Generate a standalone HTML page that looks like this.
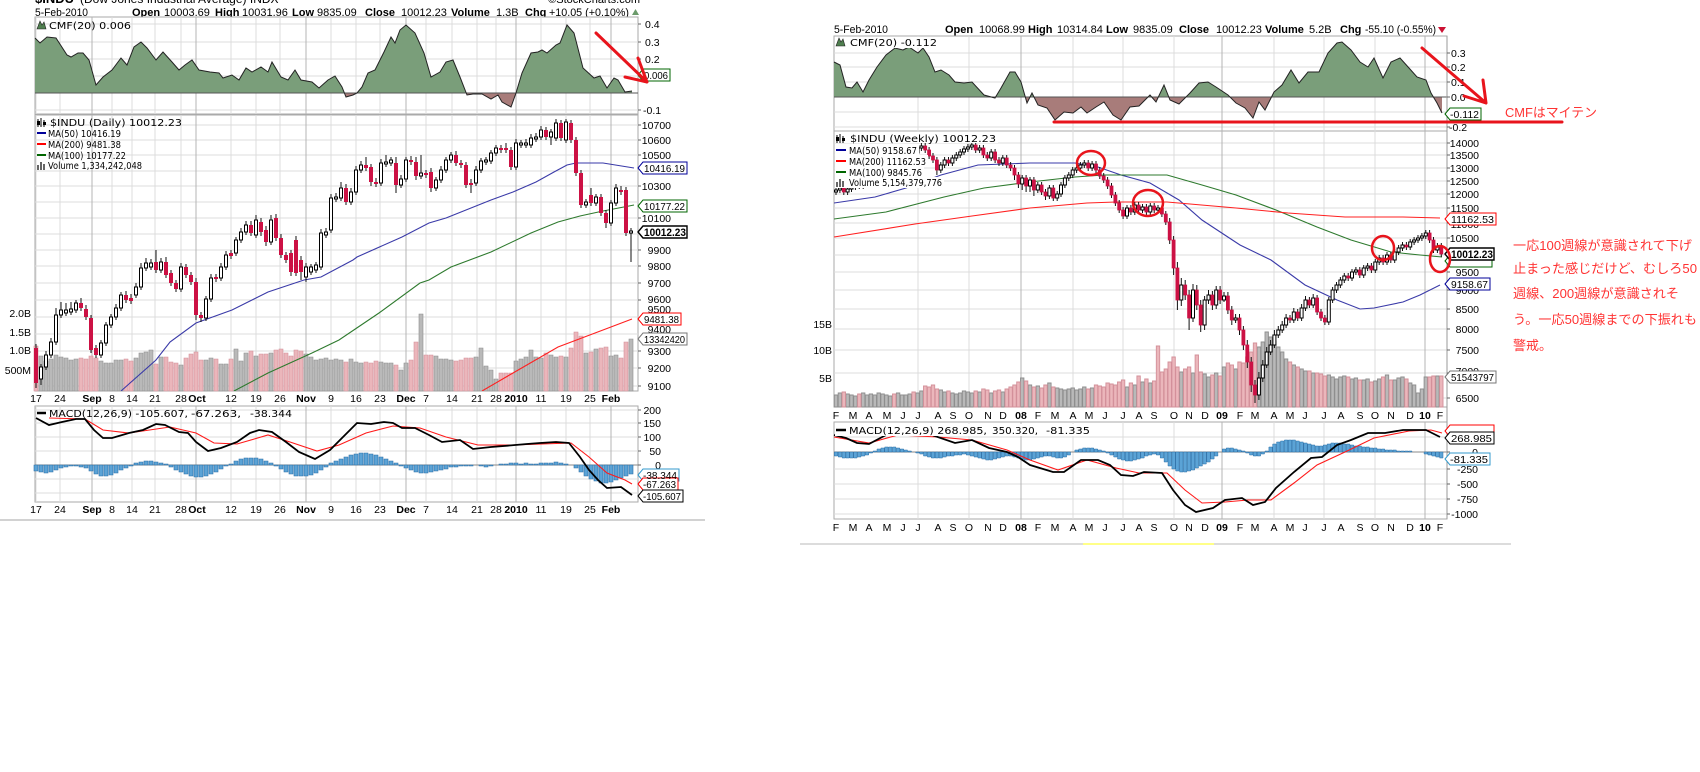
<!DOCTYPE html>
<html><head><meta charset="utf-8"><style>
html,body{margin:0;padding:0;background:#fff;}
svg{display:block;}
text{font-family:"Liberation Sans",Arial,sans-serif;font-size:10.5px;fill:#000;}
.lg{font-family:"DejaVu Sans","Liberation Sans",sans-serif;font-size:10px;}
.h{font-size:11px;}
.b{font-weight:bold;}
.jp{font-family:"Liberation Sans","Noto Sans CJK JP",sans-serif;font-size:13px;fill:#ff3333;}
</style></head><body>
<svg width="1700" height="772" viewBox="0 0 1700 772" xmlns="http://www.w3.org/2000/svg">
<defs>
<clipPath id="lcu"><rect x="35" y="17" width="603" height="76"/></clipPath>
<clipPath id="lcd"><rect x="35" y="93" width="603" height="21"/></clipPath>
<clipPath id="rcu"><rect x="834" y="36" width="613" height="61"/></clipPath>
<clipPath id="rcd"><rect x="834" y="97" width="613" height="34"/></clipPath>
<clipPath id="lp"><rect x="35" y="115" width="603" height="276"/></clipPath>
<clipPath id="rp"><rect x="834" y="131" width="613" height="276"/></clipPath>
</defs>

<!-- ================= LEFT CHART ================= -->
<text x="35" y="3" class="b" style="font-size:13px">$INDU</text>
<text x="80" y="3" style="font-size:12px">(Dow Jones Industrial Average) INDX</text>
<text x="640" y="3" text-anchor="end" style="font-size:11px">©StockCharts.com</text>
<text x="35" y="16" class="h" textLength="53" lengthAdjust="spacingAndGlyphs">5-Feb-2010</text>
<text x="132" y="16" class="h b">Open</text><text x="164" y="16" class="h">10003.69</text>
<text x="215" y="16" class="h b">High</text><text x="242" y="16" class="h">10031.96</text>
<text x="292" y="16" class="h b">Low</text><text x="317" y="16" class="h">9835.09</text>
<text x="365" y="16" class="h b">Close</text><text x="401" y="16" class="h">10012.23</text>
<text x="451" y="16" class="h b">Volume</text><text x="496" y="16" class="h">1.3B</text>
<text x="525" y="16" class="h b">Chg</text><text x="549" y="16" class="h" textLength="80" lengthAdjust="spacingAndGlyphs">+10.05 (+0.10%)</text>
<path d="M632 15l3.5-6 3.5 6z" fill="#6a9a6a"/>

<!-- panels -->
<rect x="35" y="17" width="603" height="97" fill="#fff" stroke="#aaa"/>
<rect x="35" y="115" width="603" height="276" fill="#fff" stroke="#aaa"/>
<rect x="35" y="406" width="603" height="96" fill="#fff" stroke="#aaa"/>
<path d="M35 24H638M35 42H638M35 59H638M35 76H638M35 110H638M35 125H638M35 140H638M35 155H638M35 171H638M35 186H638M35 202H638M35 218H638M35 234H638M35 250H638M35 266H638M35 283H638M35 300H638M35 317H638M35 334H638M35 351H638M35 368H638M35 386H638M35 410H638M35 423H638M35 437H638M35 451H638M35 479H638M35 493H638" stroke="#dcdcdc" stroke-width="1"/>
<path d="M36 17V114M36 115V391M36 406V502M60 17V114M60 115V391M60 406V502M112 17V114M112 115V391M112 406V502M132 17V114M132 115V391M132 406V502M155 17V114M155 115V391M155 406V502M181 17V114M181 115V391M181 406V502M231 17V114M231 115V391M231 406V502M256 17V114M256 115V391M256 406V502M280 17V114M280 115V391M280 406V502M331 17V114M331 115V391M331 406V502M356 17V114M356 115V391M356 406V502M380 17V114M380 115V391M380 406V502M426 17V114M426 115V391M426 406V502M452 17V114M452 115V391M452 406V502M477 17V114M477 115V391M477 406V502M496 17V114M496 115V391M496 406V502M541 17V114M541 115V391M541 406V502M566 17V114M566 115V391M566 406V502M590 17V114M590 115V391M590 406V502" stroke="#dcdcdc"/>
<path d="M92 17V114M92 115V391M92 406V502M196 17V114M196 115V391M196 406V502M306 17V114M306 115V391M306 406V502M406 17V114M406 115V391M406 406V502M516 17V114M516 115V391M516 406V502M611 17V114M611 115V391M611 406V502" stroke="#b4b4b4"/>

<!-- left CMF -->
<g>
<polygon clip-path="url(#lcu)" fill="#7a9e7a" points="35,93 35,38 40,43 47,37 56,38 67,55 71,57 78,53 83,53 89,60 96,85 103,77 112,70 121,58 127,65 134,47 141,42 147,48 156,60 163,52 172,62 179,70 185,65 192,60 199,70 210,72 219,73 223,78 232,75 239,80 246,68 252,72 261,67 268,72 272,62 281,77 288,80 295,70 301,80 312,82 319,88 328,80 335,76 342,87 346,97 353,95 357,93 362,87 368,73 375,70 384,52 391,37 395,43 400,30 406,25 415,33 424,53 431,77 440,72 446,62 453,60 460,77 467,95 473,94 482,94 491,99 498,95 502,102 511,107 516,93 522,73 531,53 538,52 542,50 547,53 556,45 560,43 567,25 574,33 583,68 594,78 600,76 607,88 614,78 618,80 625,92 632,91 632,93"/>
<polygon clip-path="url(#lcd)" fill="#a87c7a" points="35,93 35,38 40,43 47,37 56,38 67,55 71,57 78,53 83,53 89,60 96,85 103,77 112,70 121,58 127,65 134,47 141,42 147,48 156,60 163,52 172,62 179,70 185,65 192,60 199,70 210,72 219,73 223,78 232,75 239,80 246,68 252,72 261,67 268,72 272,62 281,77 288,80 295,70 301,80 312,82 319,88 328,80 335,76 342,87 346,97 353,95 357,93 362,87 368,73 375,70 384,52 391,37 395,43 400,30 406,25 415,33 424,53 431,77 440,72 446,62 453,60 460,77 467,95 473,94 482,94 491,99 498,95 502,102 511,107 516,93 522,73 531,53 538,52 542,50 547,53 556,45 560,43 567,25 574,33 583,68 594,78 600,76 607,88 614,78 618,80 625,92 632,91 632,93"/>
<path d="M35 93H638" stroke="#555"/>
<polyline fill="none" stroke="#222" stroke-width="1" points="35,38 40,43 47,37 56,38 67,55 71,57 78,53 83,53 89,60 96,85 103,77 112,70 121,58 127,65 134,47 141,42 147,48 156,60 163,52 172,62 179,70 185,65 192,60 199,70 210,72 219,73 223,78 232,75 239,80 246,68 252,72 261,67 268,72 272,62 281,77 288,80 295,70 301,80 312,82 319,88 328,80 335,76 342,87 346,97 353,95 357,93 362,87 368,73 375,70 384,52 391,37 395,43 400,30 406,25 415,33 424,53 431,77 440,72 446,62 453,60 460,77 467,95 473,94 482,94 491,99 498,95 502,102 511,107 516,93 522,73 531,53 538,52 542,50 547,53 556,45 560,43 567,25 574,33 583,68 594,78 600,76 607,88 614,78 618,80 625,92 632,91"/>
</g>

<!-- left volume -->
<path fill="#b9b9b9" stroke="#8e8e8e" stroke-width="0.6" d="M39 391v-35h4v35zM44 391v-30h4v30zM49 391v-32h4v32zM54 391v-36h4v36zM59 391v-34h4v34zM64 391v-33h4v33zM69 391v-31h4v31zM74 391v-32h4v32zM99 391v-30h4v30zM104 391v-28h4v28zM109 391v-28h4v28zM114 391v-31h4v31zM119 391v-31h4v31zM134 391v-33h4v33zM139 391v-38h4v38zM144 391v-39h4v39zM149 391v-41h4v41zM159 391v-34h4v34zM179 391v-26h4v26zM204 391v-31h4v31zM209 391v-33h4v33zM219 391v-27h4v27zM224 391v-27h4v27zM234 391v-42h4v42zM239 391v-30h4v30zM244 391v-38h4v38zM254 391v-35h4v35zM269 391v-38h4v38zM304 391v-37h4v37zM309 391v-34h4v34zM314 391v-31h4v31zM319 391v-32h4v32zM324 391v-33h4v33zM329 391v-31h4v31zM334 391v-32h4v32zM339 391v-31h4v31zM349 391v-32h4v32zM354 391v-29h4v29zM359 391v-28h4v28zM379 391v-29h4v29zM384 391v-28h4v28zM389 391v-28h4v28zM399 391v-21h4v21zM404 391v-28h4v28zM419 391v-77h4v77zM434 391v-35h4v35zM439 391v-32h4v32zM444 391v-32h4v32zM449 391v-31h4v31zM474 391v-34h4v34zM479 391v-43h4v43zM484 391v-25h4v25zM489 391v-21h4v21zM494 391v-12h4v12zM514 391v-30h4v30zM519 391v-32h4v32zM524 391v-34h4v34zM529 391v-41h4v41zM534 391v-34h4v34zM539 391v-33h4v33zM549 391v-36h4v36zM554 391v-34h4v34zM564 391v-34h4v34zM584 391v-38h4v38zM594 391v-42h4v42zM609 391v-35h4v35zM614 391v-36h4v36zM629 391v-52h4v52z"/>
<path fill="#ebb6bb" stroke="#d3909a" stroke-width="0.6" d="M34 391v-45h4v45zM79 391v-33h4v33zM84 391v-32h4v32zM89 391v-35h4v35zM94 391v-33h4v33zM124 391v-32h4v32zM129 391v-30h4v30zM154 391v-27h4v27zM164 391v-34h4v34zM169 391v-29h4v29zM174 391v-28h4v28zM184 391v-33h4v33zM189 391v-37h4v37zM194 391v-39h4v39zM199 391v-31h4v31zM214 391v-32h4v32zM229 391v-32h4v32zM249 391v-40h4v40zM259 391v-37h4v37zM264 391v-37h4v37zM274 391v-41h4v41zM279 391v-42h4v42zM284 391v-38h4v38zM289 391v-35h4v35zM294 391v-41h4v41zM299 391v-40h4v40zM344 391v-29h4v29zM364 391v-29h4v29zM369 391v-28h4v28zM374 391v-30h4v30zM394 391v-26h4v26zM409 391v-31h4v31zM414 391v-49h4v49zM424 391v-36h4v36zM429 391v-36h4v36zM454 391v-30h4v30zM459 391v-31h4v31zM464 391v-33h4v33zM469 391v-33h4v33zM499 391v-18h4v18zM504 391v-18h4v18zM509 391v-18h4v18zM544 391v-38h4v38zM559 391v-35h4v35zM569 391v-43h4v43zM574 391v-59h4v59zM579 391v-55h4v55zM589 391v-39h4v39zM599 391v-43h4v43zM604 391v-44h4v44zM619 391v-33h4v33zM624 391v-49h4v49z"/>

<!-- left MAs -->
<g clip-path="url(#lp)" fill="none">
<polyline stroke="#3a3aa8" stroke-width="1.1" points="121,391 156,360 170,342 196,323 232,310 268,292 304,280 321,277 353,260 357,257 402,237 429,223 446,218 491,200 513,192 536,182 554,172 567,165 576,163 603,163 634,168"/>
<polyline stroke="#2e7a2e" stroke-width="1.1" points="234,391 268,373 312,353 339,340 379,313 420,283 429,280 451,267 491,252 531,233 558,222 580,216 603,211 629,206 634,205"/>
<polyline stroke="#ff2020" stroke-width="1.1" points="482,391 513,373 558,347 603,330 632,319"/>
</g>

<!-- left candles -->
<path stroke="#111" stroke-width="1" fill="none" d="M36 344V388M41 364V385M46 351V370M51 338V358M56 308V345M61 302V318M66 303V316M71 302V315M76 300V313M81 298V311M86 305V320M91 315V353M96 345V358M101 340V358M106 322V346M111 314V328M116 304V320M121 292V311M126 291V303M131 294V304M136 283V298M141 263V290M146 258V271M151 259V270M156 250V273M161 258V273M166 257V278M171 270V286M176 280V292M181 263V292M186 264V278M191 272V285M196 278V320M201 312V322M206 296V321M211 274V302M216 274V282M221 263V281M226 251V270M231 250V259M236 237V256M241 228V243M246 221V235M251 221V236M256 215V238M261 218V236M266 226V246M271 215V245M276 214V241M281 234V258M286 252V263M291 250V276M296 236V276M301 256V280M306 263V282M311 264V275M316 262V273M321 229V270M326 228V238M331 194V233M336 193V202M341 182V201M346 184V205M351 188V205M356 166V195M361 161V173M366 157V171M371 164V186M376 178V187M381 159V186M386 155V167M391 157V166M396 157V193M401 175V188M406 157V182M411 156V165M416 157V180M421 155V179M426 170V178M431 168V192M436 177V191M441 166V183M446 157V173M451 152V163M456 151V166M461 160V168M466 162V188M471 179V193M476 166V186M481 158V173M486 157V165M491 150V164M496 145V156M501 145V153M506 143V153M511 147V170M516 139V170M521 140V148M526 139V148M531 134V148M536 133V142M541 126V140M546 127V140M551 129V145M556 119V141M561 120V141M566 119V143M571 120V143M576 137V176M581 170V208M586 199V208M591 188V206M596 194V206M601 194V216M606 210V228M611 200V226M616 184V206M621 186V195M626 187V236M631 228V262"/>
<path fill="#cc1144" d="M34 348h4v35h-4zM79 303h4v5h-4zM84 309h4v8h-4zM89 318h4v32h-4zM94 348h4v7h-4zM124 295h4v5h-4zM129 298h4v3h-4zM154 262h4v8h-4zM164 262h4v13h-4zM169 273h4v10h-4zM174 283h4v6h-4zM184 267h4v8h-4zM189 275h4v7h-4zM194 282h4v33h-4zM199 315h4v3h-4zM214 277h4v2h-4zM229 253h4v3h-4zM249 225h4v8h-4zM259 222h4v10h-4zM264 230h4v12h-4zM274 218h4v20h-4zM279 238h4v17h-4zM284 255h4v5h-4zM289 253h4v19h-4zM294 240h4v33h-4zM299 260h4v12h-4zM344 188h4v14h-4zM364 165h4v3h-4zM369 167h4v15h-4zM374 182h4v2h-4zM394 163h4v22h-4zM409 160h4v2h-4zM414 162h4v14h-4zM424 173h4v2h-4zM429 172h4v16h-4zM454 155h4v8h-4zM459 163h4v2h-4zM464 165h4v20h-4zM469 183h4v2h-4zM499 148h4v2h-4zM504 148h4v2h-4zM509 150h4v17h-4zM544 130h4v7h-4zM559 123h4v15h-4zM569 123h4v17h-4zM574 140h4v33h-4zM579 173h4v32h-4zM589 195h4v8h-4zM599 197h4v16h-4zM604 213h4v10h-4zM619 190h4v2h-4zM624 190h4v43h-4z"/>
<path fill="#fff" stroke="#000" stroke-width="1" d="M39.5 367h3v12h-3zM44.5 355h3v12h-3zM49.5 342h3v13h-3zM54.5 315h3v27h-3zM59.5 310h3v5h-3zM64.5 310h3v3h-3zM69.5 309h3v3h-3zM74.5 303h3v7h-3zM99.5 343h3v12h-3zM104.5 325h3v18h-3zM109.5 317h3v8h-3zM114.5 308h3v9h-3zM119.5 295h3v13h-3zM134.5 287h3v8h-3zM139.5 268h3v19h-3zM144.5 263h3v5h-3zM149.5 263h3v4h-3zM159.5 262h3v8h-3zM179.5 267h3v22h-3zM204.5 299h3v19h-3zM209.5 278h3v21h-3zM219.5 267h3v11h-3zM224.5 255h3v12h-3zM234.5 240h3v13h-3zM239.5 232h3v8h-3zM244.5 225h3v7h-3zM254.5 220h3v15h-3zM269.5 220h3v22h-3zM304.5 267h3v10h-3zM309.5 267h3v5h-3zM314.5 265h3v5h-3zM319.5 233h3v34h-3zM324.5 232h3v3h-3zM329.5 198h3v32h-3zM334.5 197h3v2h-3zM339.5 188h3v10h-3zM349.5 192h3v10h-3zM354.5 170h3v22h-3zM359.5 165h3v5h-3zM379.5 163h3v20h-3zM384.5 162h3v2h-3zM389.5 160h3v3h-3zM399.5 179h3v6h-3zM404.5 160h3v19h-3zM419.5 173h3v3h-3zM434.5 180h3v8h-3zM439.5 170h3v10h-3zM444.5 160h3v10h-3zM449.5 155h3v5h-3zM474.5 170h3v13h-3zM479.5 161h3v9h-3zM484.5 160h3v2h-3zM489.5 153h3v8h-3zM494.5 148h3v5h-3zM514.5 143h3v24h-3zM519.5 143h3v2h-3zM524.5 143h3v2h-3zM529.5 138h3v7h-3zM534.5 137h3v2h-3zM539.5 130h3v7h-3zM549.5 132h3v5h-3zM554.5 123h3v15h-3zM564.5 122h3v18h-3zM584.5 202h3v3h-3zM594.5 197h3v6h-3zM609.5 203h3v20h-3zM614.5 188h3v15h-3zM629.5 231h3v2h-3z"/>

<!-- left MACD -->
<path d="M35 465H638" stroke="#888"/>
<path fill="#5ba3d6" stroke="#2b6ea6" stroke-width="0.6" d="M34 465V471h4V465zM39 465V472h4V465zM44 465V473h4V465zM49 465V472h4V465zM54 465V470h4V465zM59 465V468h4V465zM64 465V467h4V465zM69 465V466h4V465zM74 465V466h4V465zM79 465V467h4V465zM84 465V468h4V465zM89 465V471h4V465zM94 465V474h4V465zM99 465V476h4V465zM104 465V476h4V465zM109 465V475h4V465zM114 465V473h4V465zM119 465V470h4V465zM124 465V468h4V465zM129 465V466h4V465zM134 465V463h4V465zM139 465V462h4V465zM144 465V461h4V465zM149 465V461h4V465zM154 465V462h4V465zM159 465V463h4V465zM164 465V464h4V465zM169 465V467h4V465zM174 465V470h4V465zM179 465V472h4V465zM184 465V474h4V465zM189 465V476h4V465zM194 465V477h4V465zM199 465V477h4V465zM204 465V476h4V465zM209 465V474h4V465zM214 465V472h4V465zM219 465V469h4V465zM224 465V466h4V465zM229 465V464h4V465zM234 465V461h4V465zM239 465V459h4V465zM244 465V458h4V465zM249 465V458h4V465zM254 465V458h4V465zM259 465V459h4V465zM264 465V461h4V465zM269 465V463h4V465zM274 465V466h4V465zM279 465V469h4V465zM284 465V472h4V465zM289 465V474h4V465zM294 465V476h4V465zM299 465V476h4V465zM304 465V476h4V465zM309 465V475h4V465zM314 465V473h4V465zM319 465V470h4V465zM324 465V467h4V465zM329 465V463h4V465zM334 465V461h4V465zM339 465V459h4V465zM344 465V457h4V465zM349 465V455h4V465zM354 465V454h4V465zM359 465V453h4V465zM364 465V453h4V465zM369 465V454h4V465zM374 465V455h4V465zM379 465V457h4V465zM384 465V459h4V465zM389 465V461h4V465zM394 465V463h4V465zM399 465V466h4V465zM404 465V468h4V465zM409 465V470h4V465zM414 465V472h4V465zM419 465V473h4V465zM424 465V473h4V465zM429 465V472h4V465zM434 465V471h4V465zM439 465V470h4V465zM444 465V469h4V465zM449 465V467h4V465zM454 465V467h4V465zM459 465V466h4V465zM464 465V466h4V465zM469 465V466h4V465zM479 465V466h4V465zM484 465V467h4V465zM489 465V466h4V465zM499 465V464h4V465zM504 465V464h4V465zM509 465V463h4V465zM514 465V463h4V465zM519 465V464h4V465zM524 465V463h4V465zM529 465V464h4V465zM534 465V464h4V465zM539 465V463h4V465zM544 465V463h4V465zM549 465V463h4V465zM554 465V462h4V465zM559 465V463h4V465zM564 465V464h4V465zM574 465V468h4V465zM579 465V472h4V465zM584 465V476h4V465zM589 465V479h4V465zM594 465V481h4V465zM599 465V483h4V465zM604 465V483h4V465zM609 465V482h4V465zM614 465V480h4V465zM619 465V478h4V465zM624 465V476h4V465zM629 465V474h4V465z"/>
<polyline fill="none" stroke="#ff1a1a" stroke-width="1.1" points="49,418 85,419 103,430 129,433 170,427 196,433 214,443 237,444 268,435 290,442 317,451 339,445 366,433 393,426 420,428 446,437 478,445 513,445 571,443 589,457 607,473 625,480 632,484"/>
<polyline fill="none" stroke="#000" stroke-width="1.8" points="36,418 49,425 62,422 76,419 85,419 94,430 103,438 112,438 129,433 143,430 156,424 165,425 179,432 188,433 196,442 208,451 221,448 237,442 250,433 259,430 272,432 286,442 299,452 315,459 330,450 344,436 357,423 371,424 384,422 393,423 402,428 415,428 429,435 442,442 460,440 473,449 491,447 504,446 527,444 540,443 556,442 569,443 580,457 589,470 598,480 607,488 621,487 632,495"/>

<!-- left legends -->
<path d="M37 29l3-8 2 4 2-3 2 7z" fill="#4f7f4f" stroke="#222" stroke-width="0.6"/>
<text class="lg" x="49" y="29" textLength="82" lengthAdjust="spacingAndGlyphs">CMF(20) 0.006</text>
<path d="M38 119v8M41 118v9M44 120v7" stroke="#000"/>
<path d="M37 121h3v4h-3zM43 122h3v3h-3z" fill="#000"/>
<text class="lg" x="50" y="126" textLength="132" lengthAdjust="spacingAndGlyphs">$INDU (Daily) 10012.23</text>
<path d="M37 133h9" stroke="#000099" stroke-width="2"/>
<text class="lg" x="48" y="137" textLength="73" lengthAdjust="spacingAndGlyphs" fill="#000099">MA(50) 10416.19</text>
<path d="M37 144h9" stroke="#ff0000" stroke-width="2"/>
<text class="lg" x="48" y="148" textLength="73" lengthAdjust="spacingAndGlyphs" fill="#ff0000">MA(200) 9481.38</text>
<path d="M37 155h9" stroke="#006600" stroke-width="2"/>
<text class="lg" x="48" y="159" textLength="78" lengthAdjust="spacingAndGlyphs" fill="#006600">MA(100) 10177.22</text>
<path d="M37 170v-5h2v5zM40 170v-8h2v8zM43 170v-6h2v6z" fill="#666"/>
<text class="lg" x="48" y="169" textLength="94" lengthAdjust="spacingAndGlyphs" fill="#555">Volume 1,334,242,048</text>
<path d="M37 413h9" stroke="#000" stroke-width="2.5"/>
<text class="lg" x="49" y="417" textLength="139" lengthAdjust="spacingAndGlyphs">MACD(12,26,9) -105.607,</text>
<text class="lg" x="191" y="417" textLength="50" lengthAdjust="spacingAndGlyphs" fill="#ff0000">-67.263,</text>
<text class="lg" x="250" y="417" textLength="42" lengthAdjust="spacingAndGlyphs" fill="#3399cc">-38.344</text>

<!-- left axis labels -->
<text x="645" y="28">0.4</text><text x="645" y="46">0.3</text><text x="645" y="63">0.2</text><text x="645" y="80">0.1</text><text x="643" y="114">-0.1</text>
<g text-anchor="end">
<text x="671" y="129">10700</text><text x="671" y="144">10600</text><text x="671" y="159">10500</text><text x="671" y="190">10300</text><text x="671" y="222">10100</text><text x="671" y="254">9900</text><text x="671" y="270">9800</text><text x="671" y="287">9700</text><text x="671" y="303">9600</text><text x="671" y="313">9500</text><text x="671" y="333">9400</text><text x="671" y="355">9300</text><text x="671" y="372">9200</text><text x="671" y="390">9100</text>
<text x="661" y="414">200</text><text x="661" y="427">150</text><text x="661" y="441">100</text><text x="661" y="455">50</text><text x="661" y="469">0</text>
<text x="31" y="317">2.0B</text><text x="31" y="336">1.5B</text><text x="31" y="354">1.0B</text><text x="31" y="374">500M</text>
</g>
<path d="M638 125h3M638 140h3M638 155h3M638 186h3M638 218h3M638 250h3M638 266h3M638 283h3M638 300h3M638 351h3M638 368h3M638 386h3M638 24h3M638 42h3M638 59h3M638 76h3M638 110h3M638 410h3M638 423h3M638 437h3M638 451h3M638 465h3" stroke="#666"/>

<!-- left value boxes -->
<g stroke-width="1" fill="#fff">
<polygon points="638,75 643,69 670,69 670,81 643,81" stroke="#006600"/>
<polygon points="638,168 643,162 687,162 687,174 643,174" stroke="#000099"/>
<polygon points="638,206 643,200 687,200 687,212 643,212" stroke="#006600"/>
<polygon points="638,232 643,226 687,226 687,238 643,238" stroke="#000" stroke-width="1.4"/>
<polygon points="638,319 643,313 681,313 681,325 643,325" stroke="#ff0000"/>
<polygon points="638,339 643,333 687,333 687,345 643,345" stroke="#777"/>
<polygon points="638,475 643,469 679,469 679,481 643,481" stroke="#3399cc"/>
<polygon points="638,484 643,478 678,478 678,490 643,490" stroke="#ff0000"/>
<polygon points="638,496 643,490 683,490 683,502 643,502" stroke="#000"/>
</g>
<text x="644" y="79" textLength="24" lengthAdjust="spacingAndGlyphs">0.006</text>
<text x="644" y="172" textLength="41" lengthAdjust="spacingAndGlyphs">10416.19</text>
<text x="644" y="210" textLength="41" lengthAdjust="spacingAndGlyphs">10177.22</text>
<text x="644" y="236" class="b" textLength="42" lengthAdjust="spacingAndGlyphs" style="font-size:11px">10012.23</text>
<text x="644" y="323" textLength="35" lengthAdjust="spacingAndGlyphs">9481.38</text>
<text x="644" y="343" textLength="41" lengthAdjust="spacingAndGlyphs">13342420</text>
<text x="643" y="479" textLength="34" lengthAdjust="spacingAndGlyphs">-38.344</text>
<text x="643" y="488" textLength="33" lengthAdjust="spacingAndGlyphs">-67.263</text>
<text x="643" y="500" textLength="38" lengthAdjust="spacingAndGlyphs">-105.607</text>

<!-- left x labels -->
<g text-anchor="middle">
<text x="36" y="402">17</text><text x="60" y="402">24</text><text x="92" y="402" class="b">Sep</text><text x="112" y="402">8</text><text x="132" y="402">14</text><text x="155" y="402">21</text><text x="181" y="402">28</text><text x="197" y="402" class="b">Oct</text><text x="231" y="402">12</text><text x="256" y="402">19</text><text x="280" y="402">26</text><text x="306" y="402" class="b">Nov</text><text x="331" y="402">9</text><text x="356" y="402">16</text><text x="380" y="402">23</text><text x="406" y="402" class="b">Dec</text><text x="426" y="402">7</text><text x="452" y="402">14</text><text x="477" y="402">21</text><text x="496" y="402">28</text><text x="516" y="402" class="b">2010</text><text x="541" y="402">11</text><text x="566" y="402">19</text><text x="590" y="402">25</text><text x="611" y="402" class="b">Feb</text>
<text x="36" y="513">17</text><text x="60" y="513">24</text><text x="92" y="513" class="b">Sep</text><text x="112" y="513">8</text><text x="132" y="513">14</text><text x="155" y="513">21</text><text x="181" y="513">28</text><text x="197" y="513" class="b">Oct</text><text x="231" y="513">12</text><text x="256" y="513">19</text><text x="280" y="513">26</text><text x="306" y="513" class="b">Nov</text><text x="331" y="513">9</text><text x="356" y="513">16</text><text x="380" y="513">23</text><text x="406" y="513" class="b">Dec</text><text x="426" y="513">7</text><text x="452" y="513">14</text><text x="477" y="513">21</text><text x="496" y="513">28</text><text x="516" y="513" class="b">2010</text><text x="541" y="513">11</text><text x="566" y="513">19</text><text x="590" y="513">25</text><text x="611" y="513" class="b">Feb</text>
</g>

<!-- left red arrow -->
<path d="M596 33L647 82M638 58L647 82L625 77" stroke="#e8141c" stroke-width="3" fill="none" stroke-linecap="round" stroke-linejoin="round"/>

<rect x="0" y="519" width="705" height="2" fill="#d2d2d2"/>

<!-- ================= RIGHT CHART ================= -->
<text x="834" y="33" class="h" textLength="54" lengthAdjust="spacingAndGlyphs">5-Feb-2010</text>
<text x="945" y="33" class="h b">Open</text><text x="979" y="33" class="h">10068.99</text>
<text x="1028" y="33" class="h b">High</text><text x="1057" y="33" class="h">10314.84</text>
<text x="1106" y="33" class="h b">Low</text><text x="1133" y="33" class="h">9835.09</text>
<text x="1179" y="33" class="h b">Close</text><text x="1216" y="33" class="h">10012.23</text>
<text x="1265" y="33" class="h b">Volume</text><text x="1309" y="33" class="h">5.2B</text>
<text x="1340" y="33" class="h b">Chg</text><text x="1365" y="33" class="h" textLength="71" lengthAdjust="spacingAndGlyphs">-55.10 (-0.55%)</text>
<path d="M1438 27l4 6 4-6z" fill="#cc1133"/>

<rect x="834" y="36" width="613" height="95" fill="#fff" stroke="#aaa"/>
<rect x="834" y="131" width="613" height="276" fill="#fff" stroke="#aaa"/>
<rect x="834" y="422" width="613" height="97" fill="#fff" stroke="#aaa"/>
<path d="M834 53H1447M834 67H1447M834 82H1447M834 112H1447M834 127H1447M834 143H1447M834 155H1447M834 168H1447M834 181H1447M834 194H1447M834 208H1447M834 223H1447M834 238H1447M834 255H1447M834 272H1447M834 290H1447M834 309H1447M834 329H1447M834 350H1447M834 373H1447M834 398H1447M834 437H1447M834 469H1447M834 484H1447M834 499H1447M834 514H1447" stroke="#dcdcdc"/>
<path d="M918 36V131M918 131V407M918 422V519M969 36V131M969 131V407M969 422V519M1073 36V131M1073 131V407M1073 422V519M1123 36V131M1123 131V407M1123 422V519M1174 36V131M1174 131V407M1174 422V519M1274 36V131M1274 131V407M1274 422V519M1324 36V131M1324 131V407M1324 422V519M1375 36V131M1375 131V407M1375 422V519" stroke="#dcdcdc"/>
<path d="M1021 36V131M1021 131V407M1021 422V519M1222 36V131M1222 131V407M1222 422V519M1425 36V131M1425 131V407M1425 422V519" stroke="#b4b4b4"/>

<!-- right CMF -->
<polygon clip-path="url(#rcu)" fill="#7a9e7a" points="834,97 834,62 840,65 846,87 852,88 857,82 863,92 869,80 877,67 886,55 895,48 903,50 909,47 918,53 923,48 929,57 935,72 941,70 949,75 955,82 964,83 972,82 984,95 995,98 1001,88 1010,72 1015,72 1021,82 1027,103 1032,93 1038,105 1047,108 1055,120 1064,112 1073,113 1081,107 1087,113 1096,107 1104,102 1113,115 1121,120 1130,107 1139,106 1150,95 1156,102 1164,85 1170,100 1179,104 1190,93 1199,83 1208,82 1216,87 1228,95 1236,103 1245,108 1253,118 1259,102 1265,110 1274,92 1282,85 1291,70 1299,83 1308,72 1319,72 1328,53 1337,43 1342,42 1351,50 1360,62 1368,67 1374,58 1383,78 1391,62 1400,58 1409,68 1417,77 1426,80 1431,93 1437,103 1442,113 1442,97"/>
<polygon clip-path="url(#rcd)" fill="#a87c7a" points="834,97 834,62 840,65 846,87 852,88 857,82 863,92 869,80 877,67 886,55 895,48 903,50 909,47 918,53 923,48 929,57 935,72 941,70 949,75 955,82 964,83 972,82 984,95 995,98 1001,88 1010,72 1015,72 1021,82 1027,103 1032,93 1038,105 1047,108 1055,120 1064,112 1073,113 1081,107 1087,113 1096,107 1104,102 1113,115 1121,120 1130,107 1139,106 1150,95 1156,102 1164,85 1170,100 1179,104 1190,93 1199,83 1208,82 1216,87 1228,95 1236,103 1245,108 1253,118 1259,102 1265,110 1274,92 1282,85 1291,70 1299,83 1308,72 1319,72 1328,53 1337,43 1342,42 1351,50 1360,62 1368,67 1374,58 1383,78 1391,62 1400,58 1409,68 1417,77 1426,80 1431,93 1437,103 1442,113 1442,97"/>
<path d="M834 97H1447" stroke="#555"/>
<polyline fill="none" stroke="#222" points="834,62 840,65 846,87 852,88 857,82 863,92 869,80 877,67 886,55 895,48 903,50 909,47 918,53 923,48 929,57 935,72 941,70 949,75 955,82 964,83 972,82 984,95 995,98 1001,88 1010,72 1015,72 1021,82 1027,103 1032,93 1038,105 1047,108 1055,120 1064,112 1073,113 1081,107 1087,113 1096,107 1104,102 1113,115 1121,120 1130,107 1139,106 1150,95 1156,102 1164,85 1170,100 1179,104 1190,93 1199,83 1208,82 1216,87 1228,95 1236,103 1245,108 1253,118 1259,102 1265,110 1274,92 1282,85 1291,70 1299,83 1308,72 1319,72 1328,53 1337,43 1342,42 1351,50 1360,62 1368,67 1374,58 1383,78 1391,62 1400,58 1409,68 1417,77 1426,80 1431,93 1437,103 1442,113"/>

<!-- right volume -->
<path fill="#b9b9b9" stroke="#8e8e8e" stroke-width="0.9" d="M834.3 407v-12h3.4v12zM838.2 407v-14h3.4v14zM845.9 407v-13h3.4v13zM849.8 407v-12h3.4v12zM853.7 407v-11h3.4v11zM861.5 407v-14h3.4v14zM865.3 407v-12h3.4v12zM869.2 407v-13h3.4v13zM873.1 407v-12h3.4v12zM877 407v-14h3.4v14zM880.9 407v-13h3.4v13zM884.7 407v-12h3.4v12zM888.6 407v-11h3.4v11zM896.4 407v-14h3.4v14zM900.3 407v-12h3.4v12zM904.1 407v-12h3.4v12zM908 407v-13h3.4v13zM915.8 407v-14h3.4v14zM919.7 407v-16h3.4v16zM939.1 407v-17h3.4v17zM942.9 407v-15h3.4v15zM950.7 407v-14h3.4v14zM954.6 407v-13h3.4v13zM958.5 407v-14h3.4v14zM962.3 407v-16h3.4v16zM966.2 407v-15h3.4v15zM970.1 407v-14h3.4v14zM977.9 407v-15h3.4v15zM989.5 407v-14h3.4v14zM1001.1 407v-15h3.4v15zM1020.5 407v-29h3.4v29zM1028.3 407v-22h3.4v22zM1036.1 407v-21h3.4v21zM1047.7 407v-24h3.4v24zM1055.5 407v-19h3.4v19zM1059.3 407v-18h3.4v18zM1063.2 407v-17h3.4v17zM1067.1 407v-18h3.4v18zM1071 407v-19h3.4v19zM1074.9 407v-17h3.4v17zM1078.7 407v-18h3.4v18zM1082.6 407v-20h3.4v20zM1090.4 407v-19h3.4v19zM1125.3 407v-20h3.4v20zM1133.1 407v-22h3.4v22zM1140.8 407v-25h3.4v25zM1148.6 407v-24h3.4v24zM1179.6 407v-35h3.4v35zM1191.3 407v-34h3.4v34zM1202.9 407v-33h3.4v33zM1206.8 407v-30h3.4v30zM1214.5 407v-34h3.4v34zM1222.3 407v-40h3.4v40zM1233.9 407v-38h3.4v38zM1257.2 407v-60h3.4v60zM1261.1 407v-65h3.4v65zM1265 407v-75h3.4v75zM1268.9 407v-70h3.4v70zM1272.7 407v-66h3.4v66zM1276.6 407v-60h3.4v60zM1280.5 407v-55h3.4v55zM1284.4 407v-48h3.4v48zM1292.1 407v-42h3.4v42zM1299.9 407v-38h3.4v38zM1303.8 407v-36h3.4v36zM1311.5 407v-34h3.4v34zM1327.1 407v-32h3.4v32zM1330.9 407v-30h3.4v30zM1334.8 407v-28h3.4v28zM1338.7 407v-30h3.4v30zM1342.6 407v-31h3.4v31zM1350.3 407v-28h3.4v28zM1354.2 407v-29h3.4v29zM1362 407v-27h3.4v27zM1365.9 407v-28h3.4v28zM1373.6 407v-26h3.4v26zM1377.5 407v-28h3.4v28zM1385.3 407v-32h3.4v32zM1393 407v-27h3.4v27zM1396.9 407v-29h3.4v29zM1400.8 407v-30h3.4v30zM1408.5 407v-24h3.4v24zM1412.4 407v-22h3.4v22zM1416.3 407v-14h3.4v14zM1420.2 407v-18h3.4v18zM1424.1 407v-30h3.4v30zM1435.7 407v-31h3.4v31z"/>
<path fill="#ebb6bb" stroke="#d3909a" stroke-width="0.9" d="M842.1 407v-15h3.4v15zM857.6 407v-13h3.4v13zM892.5 407v-13h3.4v13zM911.9 407v-15h3.4v15zM923.5 407v-21h3.4v21zM927.4 407v-20h3.4v20zM931.3 407v-22h3.4v22zM935.2 407v-18h3.4v18zM946.8 407v-16h3.4v16zM974 407v-16h3.4v16zM981.7 407v-18h3.4v18zM985.6 407v-17h3.4v17zM993.4 407v-16h3.4v16zM997.3 407v-17h3.4v17zM1005 407v-18h3.4v18zM1008.9 407v-20h3.4v20zM1012.8 407v-22h3.4v22zM1016.7 407v-25h3.4v25zM1024.4 407v-26h3.4v26zM1032.2 407v-20h3.4v20zM1039.9 407v-19h3.4v19zM1043.8 407v-22h3.4v22zM1051.6 407v-20h3.4v20zM1086.5 407v-18h3.4v18zM1094.3 407v-22h3.4v22zM1098.1 407v-21h3.4v21zM1102 407v-20h3.4v20zM1105.9 407v-24h3.4v24zM1109.8 407v-23h3.4v23zM1113.7 407v-22h3.4v22zM1117.5 407v-25h3.4v25zM1121.4 407v-27h3.4v27zM1129.2 407v-24h3.4v24zM1136.9 407v-31h3.4v31zM1144.7 407v-28h3.4v28zM1152.5 407v-26h3.4v26zM1156.3 407v-61h3.4v61zM1160.2 407v-35h3.4v35zM1164.1 407v-38h3.4v38zM1168 407v-45h3.4v45zM1171.9 407v-50h3.4v50zM1175.7 407v-40h3.4v40zM1183.5 407v-38h3.4v38zM1187.4 407v-40h3.4v40zM1195.1 407v-52h3.4v52zM1199 407v-35h3.4v35zM1210.7 407v-32h3.4v32zM1218.4 407v-31h3.4v31zM1226.2 407v-44h3.4v44zM1230.1 407v-42h3.4v42zM1237.8 407v-45h3.4v45zM1241.7 407v-44h3.4v44zM1245.6 407v-50h3.4v50zM1249.5 407v-55h3.4v55zM1253.3 407v-64h3.4v64zM1288.3 407v-45h3.4v45zM1296 407v-40h3.4v40zM1307.7 407v-36h3.4v36zM1315.4 407v-34h3.4v34zM1319.3 407v-33h3.4v33zM1323.2 407v-31h3.4v31zM1346.5 407v-30h3.4v30zM1358.1 407v-27h3.4v27zM1369.7 407v-25h3.4v25zM1381.4 407v-30h3.4v30zM1389.1 407v-27h3.4v27zM1404.7 407v-28h3.4v28zM1427.9 407v-30h3.4v30zM1431.8 407v-31h3.4v31zM1439.6 407v-31h3.4v31z"/>

<!-- right MAs -->
<g clip-path="url(#rp)" fill="none">
<polyline stroke="#3a3aa8" stroke-width="1.1" points="834,203 875,197 906,188 941,175 978,165 1030,163 1075,163 1098,167 1121,175 1150,183 1179,200 1202,220 1240,245 1271,260 1305,285 1337,300 1360,309 1374,308 1403,302 1420,295 1440,285"/>
<polyline stroke="#2e7a2e" stroke-width="1.1" points="834,219 886,212 944,197 984,188 1030,182 1075,177 1104,175 1167,175 1202,185 1236,195 1276,210 1317,227 1351,240 1391,252 1420,255 1442,257"/>
<polyline stroke="#ff2020" stroke-width="1.1" points="834,237 915,224 972,216 1030,208 1087,203 1116,202 1167,202 1236,208 1288,213 1345,217 1403,217 1440,218"/>
</g>

<!-- right candles -->
<path stroke="#111" stroke-width="1" fill="none" d="M836 187V195M839.9 185V193M843.8 185V195M847.6 186V195M851.5 184V192M855.4 181V190M859.3 181V189M863.2 177V189M867 175V183M870.9 172V181M874.8 169V178M878.7 167V175M882.6 163V173M886.4 160V169M890.3 157V166M894.2 157V165M898.1 155V165M902 152V161M905.8 149V158M909.7 147V155M913.6 147V156M917.5 145V156M921.4 143V151M925.2 143V153M929.1 147V159M933 153V163M936.9 157V175M940.8 162V173M944.6 157V168M948.5 157V166M952.4 155V166M956.3 152V161M960.2 149V158M964 146V155M967.9 144V152M971.8 142V150M975.7 142V153M979.6 145V153M983.4 145V158M987.3 152V161M991.2 149V161M995.1 149V163M999 157V166M1002.8 155V166M1006.7 155V168M1010.6 162V171M1014.5 165V180M1018.4 172V188M1022.2 175V190M1026.1 175V192M1030 177V192M1033.9 177V196M1037.8 182V193M1041.6 182V195M1045.5 189V200M1049.4 185V199M1053.3 185V201M1057.2 191V201M1061 182V197M1064.9 175V188M1068.8 172V181M1072.7 167V178M1076.6 165V173M1080.4 162V171M1084.3 160V168M1088.2 160V171M1092.1 161V171M1096 161V173M1099.8 167V179M1103.7 173V183M1107.6 177V189M1111.5 183V198M1115.4 192V206M1119.2 200V213M1123.1 207V219M1127 205V219M1130.9 205V215M1134.8 202V215M1138.6 202V213M1142.5 204V213M1146.4 204V215M1150.3 203V215M1154.2 203V213M1158 205V213M1161.9 205V217M1165.8 211V225M1169.7 218V244M1173.6 236V275M1177.4 262V310M1181.3 278V306M1185.2 280V300M1189.1 290V330M1193 284V322M1196.8 285V310M1200.7 300V332M1204.6 296V330M1208.5 290V304M1212.4 291V310M1216.2 286V309M1220.1 286V304M1224 292V302M1227.9 292V314M1231.8 306V325M1235.6 314V323M1239.5 314V335M1243.4 326V350M1247.3 340V368M1251.2 357V392M1255 380V403M1258.9 372V400M1262.8 360V382M1266.7 347V368M1270.6 340V355M1274.4 330V348M1278.3 326V338M1282.2 321V333M1286.1 314V328M1290 315V323M1293.8 308V323M1297.7 309V321M1301.6 304V321M1305.5 296V311M1309.4 297V308M1313.2 294V308M1317.1 295V315M1321 309V321M1324.9 315V325M1328.8 297V325M1332.6 287V303M1336.5 282V293M1340.4 277V288M1344.3 273V283M1348.2 273V281M1352 269V281M1355.9 267V275M1359.8 267V278M1363.7 265V278M1367.6 263V271M1371.4 263V273M1375.3 259V273M1379.2 255V265M1383.1 255V265M1387 252V265M1390.8 252V263M1394.7 249V263M1398.6 245V255M1402.5 242V251M1406.4 242V250M1410.2 239V250M1414.1 237V245M1418 235V243M1421.9 233V241M1425.8 230V239M1429.6 230V243M1433.5 237V253M1437.4 243V253M1441.3 243V257"/>
<path fill="#cc1144" stroke="#cc1144" stroke-width="0.8" d="M842.3 188h3v4h-3zM857.8 184h3v2h-3zM892.7 160h3v2h-3zM912.1 150h3v3h-3zM923.7 146h3v4h-3zM927.6 150h3v6h-3zM931.5 156h3v4h-3zM935.4 160h3v10h-3zM947 160h3v3h-3zM974.2 145h3v5h-3zM981.9 148h3v7h-3zM985.8 155h3v3h-3zM993.6 152h3v8h-3zM997.5 160h3v3h-3zM1005.2 158h3v7h-3zM1009.1 165h3v3h-3zM1013 168h3v7h-3zM1016.9 175h3v9h-3zM1024.6 178h3v8h-3zM1032.4 180h3v10h-3zM1040.1 185h3v7h-3zM1044 192h3v4h-3zM1051.8 188h3v10h-3zM1086.7 163h3v5h-3zM1094.5 164h3v6h-3zM1098.3 170h3v6h-3zM1102.2 176h3v4h-3zM1106.1 180h3v6h-3zM1110 186h3v9h-3zM1113.9 195h3v8h-3zM1117.7 203h3v7h-3zM1121.6 210h3v6h-3zM1129.4 208h3v4h-3zM1137.1 205h3v5h-3zM1144.9 207h3v5h-3zM1152.7 206h3v4h-3zM1160.4 208h3v6h-3zM1164.3 214h3v8h-3zM1168.2 222h3v18h-3zM1172.1 240h3v28h-3zM1175.9 268h3v32h-3zM1183.7 285h3v10h-3zM1187.6 295h3v23h-3zM1195.3 290h3v15h-3zM1199.2 305h3v20h-3zM1210.9 295h3v10h-3zM1218.6 290h3v10h-3zM1226.4 296h3v14h-3zM1230.3 310h3v10h-3zM1238 318h3v12h-3zM1241.9 330h3v15h-3zM1245.8 345h3v17h-3zM1249.7 362h3v23h-3zM1253.5 385h3v10h-3zM1288.5 318h3v2h-3zM1296.2 312h3v6h-3zM1307.9 300h3v5h-3zM1315.6 298h3v14h-3zM1319.5 312h3v6h-3zM1323.4 318h3v4h-3zM1346.7 276h3v2h-3zM1358.3 270h3v5h-3zM1369.9 266h3v4h-3zM1381.6 258h3v4h-3zM1389.3 255h3v5h-3zM1404.9 245h3v2h-3zM1428.1 233h3v7h-3zM1432 240h3v10h-3zM1439.8 246h3v8h-3z"/>
<path fill="#fff" stroke="#000" stroke-width="1" d="M834.5 190h3v2h-3zM838.4 188h3v2h-3zM846.1 189h3v3h-3zM850 187h3v2h-3zM853.9 184h3v3h-3zM861.7 180h3v6h-3zM865.5 178h3v2h-3zM869.4 175h3v3h-3zM873.3 172h3v3h-3zM877.2 170h3v2h-3zM881.1 166h3v4h-3zM884.9 163h3v3h-3zM888.8 160h3v3h-3zM896.6 158h3v4h-3zM900.5 155h3v3h-3zM904.3 152h3v3h-3zM908.2 150h3v2h-3zM916 148h3v5h-3zM919.9 146h3v2h-3zM939.3 165h3v5h-3zM943.1 160h3v5h-3zM950.9 158h3v5h-3zM954.8 155h3v3h-3zM958.7 152h3v3h-3zM962.5 149h3v3h-3zM966.4 147h3v2h-3zM970.3 145h3v2h-3zM978.1 148h3v2h-3zM989.7 152h3v6h-3zM1001.3 158h3v5h-3zM1020.7 178h3v6h-3zM1028.5 180h3v6h-3zM1036.3 185h3v5h-3zM1047.9 188h3v8h-3zM1055.7 194h3v4h-3zM1059.5 185h3v9h-3zM1063.4 178h3v7h-3zM1067.3 175h3v3h-3zM1071.2 170h3v5h-3zM1075.1 168h3v2h-3zM1078.9 165h3v3h-3zM1082.8 163h3v2h-3zM1090.6 164h3v4h-3zM1125.5 208h3v8h-3zM1133.3 205h3v7h-3zM1141 207h3v3h-3zM1148.8 206h3v6h-3zM1156.5 208h3v2h-3zM1179.8 285h3v15h-3zM1191.5 290h3v28h-3zM1203.1 300h3v25h-3zM1207 295h3v5h-3zM1214.7 290h3v15h-3zM1222.5 296h3v4h-3zM1234.1 318h3v2h-3zM1257.4 378h3v17h-3zM1261.3 365h3v13h-3zM1265.2 352h3v13h-3zM1269.1 345h3v7h-3zM1272.9 335h3v10h-3zM1276.8 330h3v5h-3zM1280.7 325h3v5h-3zM1284.6 318h3v7h-3zM1292.3 312h3v8h-3zM1300.1 308h3v10h-3zM1304 300h3v8h-3zM1311.7 298h3v7h-3zM1327.3 300h3v22h-3zM1331.1 290h3v10h-3zM1335 285h3v5h-3zM1338.9 280h3v5h-3zM1342.8 276h3v4h-3zM1350.5 272h3v6h-3zM1354.4 270h3v2h-3zM1362.2 268h3v7h-3zM1366.1 266h3v2h-3zM1373.8 262h3v8h-3zM1377.7 258h3v4h-3zM1385.5 255h3v7h-3zM1393.2 252h3v8h-3zM1397.1 248h3v4h-3zM1401 245h3v3h-3zM1408.7 242h3v5h-3zM1412.6 240h3v2h-3zM1416.5 238h3v2h-3zM1420.4 236h3v2h-3zM1424.3 233h3v3h-3zM1435.9 246h3v4h-3z"/>

<!-- right MACD -->
<path d="M834 452H1447" stroke="#888"/>
<path fill="#5ba3d6" stroke="#2b6ea6" stroke-width="0.5" d="M834.3 452V456h3.4V452zM838.2 452V457h3.4V452zM842.1 452V458h3.4V452zM845.9 452V458h3.4V452zM849.8 452V458h3.4V452zM853.7 452V458h3.4V452zM857.6 452V457h3.4V452zM861.5 452V456h3.4V452zM865.3 452V455h3.4V452zM869.2 452V453h3.4V452zM873.1 452V451h3.4V452zM877 452V449h3.4V452zM880.9 452V448h3.4V452zM884.7 452V447h3.4V452zM888.6 452V447h3.4V452zM892.5 452V447h3.4V452zM896.4 452V448h3.4V452zM900.3 452V449h3.4V452zM904.1 452V450h3.4V452zM908 452V451h3.4V452zM915.8 452V453h3.4V452zM919.7 452V454h3.4V452zM923.5 452V456h3.4V452zM927.4 452V457h3.4V452zM931.3 452V458h3.4V452zM935.2 452V458h3.4V452zM939.1 452V458h3.4V452zM942.9 452V457h3.4V452zM946.8 452V456h3.4V452zM950.7 452V456h3.4V452zM954.6 452V455h3.4V452zM958.5 452V455h3.4V452zM962.3 452V454h3.4V452zM966.2 452V455h3.4V452zM970.1 452V456h3.4V452zM974 452V457h3.4V452zM977.9 452V458h3.4V452zM981.7 452V459h3.4V452zM985.6 452V460h3.4V452zM989.5 452V460h3.4V452zM993.4 452V459h3.4V452zM997.3 452V458h3.4V452zM1001.1 452V457h3.4V452zM1005 452V456h3.4V452zM1008.9 452V456h3.4V452zM1012.8 452V457h3.4V452zM1016.7 452V458h3.4V452zM1020.5 452V459h3.4V452zM1024.4 452V460h3.4V452zM1028.3 452V460h3.4V452zM1032.2 452V459h3.4V452zM1036.1 452V458h3.4V452zM1039.9 452V457h3.4V452zM1043.8 452V456h3.4V452zM1047.7 452V456h3.4V452zM1051.6 452V457h3.4V452zM1055.5 452V458h3.4V452zM1059.3 452V458h3.4V452zM1063.2 452V457h3.4V452zM1067.1 452V455h3.4V452zM1074.9 452V450h3.4V452zM1078.7 452V449h3.4V452zM1082.6 452V448h3.4V452zM1086.5 452V448h3.4V452zM1090.4 452V448h3.4V452zM1094.3 452V449h3.4V452zM1098.1 452V450h3.4V452zM1102 452V451h3.4V452zM1105.9 452V453h3.4V452zM1109.8 452V455h3.4V452zM1113.7 452V457h3.4V452zM1117.5 452V459h3.4V452zM1121.4 452V460h3.4V452zM1125.3 452V461h3.4V452zM1129.2 452V461h3.4V452zM1133.1 452V460h3.4V452zM1136.9 452V459h3.4V452zM1140.8 452V458h3.4V452zM1144.7 452V456h3.4V452zM1148.6 452V455h3.4V452zM1152.5 452V454h3.4V452zM1156.3 452V455h3.4V452zM1160.2 452V458h3.4V452zM1164.1 452V462h3.4V452zM1168 452V466h3.4V452zM1171.9 452V469h3.4V452zM1175.7 452V471h3.4V452zM1179.6 452V472h3.4V452zM1183.5 452V472h3.4V452zM1187.4 452V471h3.4V452zM1191.3 452V470h3.4V452zM1195.1 452V468h3.4V452zM1199 452V466h3.4V452zM1202.9 452V464h3.4V452zM1206.8 452V462h3.4V452zM1210.7 452V459h3.4V452zM1214.5 452V456h3.4V452zM1222.3 452V449h3.4V452zM1226.2 452V448h3.4V452zM1230.1 452V448h3.4V452zM1233.9 452V449h3.4V452zM1237.8 452V450h3.4V452zM1241.7 452V451h3.4V452zM1245.6 452V453h3.4V452zM1249.5 452V455h3.4V452zM1253.3 452V456h3.4V452zM1257.2 452V456h3.4V452zM1261.1 452V454h3.4V452zM1265 452V451h3.4V452zM1268.9 452V447h3.4V452zM1272.7 452V444h3.4V452zM1276.6 452V442h3.4V452zM1280.5 452V441h3.4V452zM1284.4 452V440h3.4V452zM1288.3 452V440h3.4V452zM1292.1 452V440h3.4V452zM1296 452V441h3.4V452zM1299.9 452V442h3.4V452zM1303.8 452V443h3.4V452zM1307.7 452V444h3.4V452zM1311.5 452V445h3.4V452zM1315.4 452V446h3.4V452zM1319.3 452V446h3.4V452zM1323.2 452V445h3.4V452zM1327.1 452V444h3.4V452zM1330.9 452V443h3.4V452zM1334.8 452V443h3.4V452zM1338.7 452V443h3.4V452zM1342.6 452V444h3.4V452zM1346.5 452V444h3.4V452zM1350.3 452V445h3.4V452zM1354.2 452V446h3.4V452zM1358.1 452V446h3.4V452zM1362 452V447h3.4V452zM1365.9 452V447h3.4V452zM1369.7 452V448h3.4V452zM1373.6 452V448h3.4V452zM1377.5 452V449h3.4V452zM1381.4 452V449h3.4V452zM1385.3 452V450h3.4V452zM1389.1 452V450h3.4V452zM1393 452V450h3.4V452zM1396.9 452V451h3.4V452zM1400.8 452V451h3.4V452zM1404.7 452V451h3.4V452zM1408.5 452V451h3.4V452zM1424.1 452V454h3.4V452zM1427.9 452V455h3.4V452zM1431.8 452V456h3.4V452zM1435.7 452V457h3.4V452zM1439.6 452V458h3.4V452z"/>
<polyline fill="none" stroke="#ff1a1a" stroke-width="1.1" points="834,437 869,443 898,435 938,437 972,440 1007,450 1030,460 1058,470 1087,460 1116,468 1139,473 1167,473 1185,490 1202,503 1225,502 1248,500 1271,500 1294,483 1317,465 1345,452 1374,438 1409,431 1431,430 1442,433"/>
<polyline fill="none" stroke="#000" stroke-width="1.8" points="834,435 846,438 857,443 869,444 886,435 898,433 932,435 955,443 972,440 989,448 1007,452 1018,457 1030,465 1053,472 1064,472 1081,460 1098,460 1110,465 1121,475 1133,476 1144,472 1162,473 1173,490 1185,505 1196,512 1213,508 1225,500 1242,498 1253,505 1265,502 1276,488 1294,472 1311,458 1322,457 1337,445 1351,440 1368,433 1385,433 1403,430 1426,430 1440,437"/>

<!-- right legends -->
<g fill="#fff">
<rect x="835" y="37" width="104" height="11"/>
<rect x="835" y="132" width="163" height="11"/>
<rect x="835" y="144" width="84" height="11"/>
<rect x="835" y="155" width="93" height="11"/>
<rect x="835" y="166" width="89" height="11"/>
<rect x="835" y="177" width="109" height="11"/>
<rect x="835" y="424" width="257" height="12"/>
</g>
<path d="M836 46l3-8 2 4 2-3 2 7z" fill="#4f7f4f" stroke="#222" stroke-width="0.6"/>
<text class="lg" x="850" y="46" textLength="87" lengthAdjust="spacingAndGlyphs">CMF(20) -0.112</text>
<path d="M837 135v8M840 134v9M843 136v7" stroke="#000"/>
<path d="M836 137h3v4h-3zM842 138h3v3h-3z" fill="#000"/>
<text class="lg" x="850" y="142" textLength="146" lengthAdjust="spacingAndGlyphs">$INDU (Weekly) 10012.23</text>
<path d="M836 150h10" stroke="#000099" stroke-width="2"/>
<text class="lg" x="849" y="154" textLength="68" lengthAdjust="spacingAndGlyphs" fill="#000099">MA(50) 9158.67</text>
<path d="M836 161h10" stroke="#ff0000" stroke-width="2"/>
<text class="lg" x="849" y="165" textLength="77" lengthAdjust="spacingAndGlyphs" fill="#ff0000">MA(200) 11162.53</text>
<path d="M836 172h10" stroke="#006600" stroke-width="2"/>
<text class="lg" x="849" y="176" textLength="73" lengthAdjust="spacingAndGlyphs" fill="#006600">MA(100) 9845.76</text>
<path d="M836 187v-5h2v5zM839 187v-8h2v8zM842 187v-6h2v6z" fill="#666"/>
<text class="lg" x="849" y="186" textLength="93" lengthAdjust="spacingAndGlyphs" fill="#555">Volume 5,154,379,776</text>
<path d="M836 430h10" stroke="#000" stroke-width="2.5"/>
<text class="lg" x="849" y="434" textLength="138" lengthAdjust="spacingAndGlyphs">MACD(12,26,9) 268.985,</text>
<text class="lg" x="992" y="434" textLength="46" lengthAdjust="spacingAndGlyphs" fill="#ff0000">350.320,</text>
<text class="lg" x="1046" y="434" textLength="44" lengthAdjust="spacingAndGlyphs" fill="#3399cc">-81.335</text>

<!-- right axis labels -->
<text x="1451" y="57">0.3</text><text x="1451" y="71">0.2</text><text x="1451" y="86">0.1</text><text x="1451" y="101">0.0</text><text x="1449" y="131">-0.2</text>
<g text-anchor="end">
<text x="1479" y="147">14000</text><text x="1479" y="159">13500</text><text x="1479" y="172">13000</text><text x="1479" y="185">12500</text><text x="1479" y="198">12000</text><text x="1479" y="212">11500</text><text x="1479" y="228">11000</text><text x="1479" y="242">10500</text><text x="1479" y="276">9500</text><text x="1479" y="294">9000</text><text x="1479" y="313">8500</text><text x="1479" y="333">8000</text><text x="1479" y="354">7500</text><text x="1479" y="375">7000</text><text x="1479" y="402">6500</text>
<text x="1478" y="456">0</text><text x="1478" y="473">-250</text><text x="1478" y="488">-500</text><text x="1478" y="503">-750</text><text x="1478" y="518">-1000</text>
<text x="832" y="328">15B</text><text x="832" y="354">10B</text><text x="832" y="382">5B</text>
</g>
<path d="M1447 36V519" stroke="#999"/>
<path d="M1447 53h3M1447 67h3M1447 82h3M1447 97h3M1447 112h3M1447 127h3M1447 143h3M1447 155h3M1447 168h3M1447 181h3M1447 194h3M1447 208h3M1447 223h3M1447 238h3M1447 255h3M1447 272h3M1447 290h3M1447 309h3M1447 329h3M1447 350h3M1447 373h3M1447 398h3M1447 437h3M1447 452h3M1447 469h3M1447 484h3M1447 499h3M1447 514h3" stroke="#666"/>

<!-- right value boxes -->
<g stroke-width="1" fill="#fff">
<polygon points="1445,114 1450,108 1481,108 1481,120 1450,120" stroke="#006600"/>
<polygon points="1445,219 1450,213 1496,213 1496,225 1450,225" stroke="#ff0000"/>
<polygon points="1445,261 1450,255 1492,255 1492,267 1450,267" stroke="#006600"/>
<polygon points="1445,254 1450,248 1494,248 1494,260 1450,260" stroke="#000" stroke-width="1.4"/>
<polygon points="1445,284 1450,278 1490,278 1490,290 1450,290" stroke="#000099"/>
<polygon points="1445,377 1450,371 1496,371 1496,383 1450,383" stroke="#777"/>
<polygon points="1445,431 1450,425 1494,425 1494,437 1450,437" stroke="#ff0000"/>
<polygon points="1445,438 1450,432 1494,432 1494,444 1450,444" stroke="#000"/>
<polygon points="1445,459 1450,453 1490,453 1490,465 1450,465" stroke="#3399cc"/>
</g>
<text x="1450" y="118" textLength="29" lengthAdjust="spacingAndGlyphs">-0.112</text>
<text x="1451" y="223" textLength="43" lengthAdjust="spacingAndGlyphs">11162.53</text>
<text x="1451" y="258" class="b" textLength="42" lengthAdjust="spacingAndGlyphs" style="font-size:11px">10012.23</text>
<text x="1451" y="288" textLength="37" lengthAdjust="spacingAndGlyphs">9158.67</text>
<text x="1451" y="381" textLength="43" lengthAdjust="spacingAndGlyphs">51543797</text>
<text x="1451" y="442" textLength="41" lengthAdjust="spacingAndGlyphs">268.985</text>
<text x="1450" y="463" textLength="38" lengthAdjust="spacingAndGlyphs">-81.335</text>

<!-- right x labels -->
<g text-anchor="middle">
<text x="836" y="419">F</text><text x="853" y="419">M</text><text x="869" y="419">A</text><text x="887" y="419">M</text><text x="903" y="419">J</text><text x="918" y="419">J</text><text x="938" y="419">A</text><text x="953" y="419">S</text><text x="969" y="419">O</text><text x="988" y="419">N</text><text x="1003" y="419">D</text><text x="1021" y="419" class="b">08</text><text x="1038" y="419">F</text><text x="1055" y="419">M</text><text x="1073" y="419">A</text><text x="1089" y="419">M</text><text x="1105" y="419">J</text><text x="1123" y="419">J</text><text x="1139" y="419">A</text><text x="1154" y="419">S</text><text x="1174" y="419">O</text><text x="1189" y="419">N</text><text x="1205" y="419">D</text><text x="1222" y="419" class="b">09</text><text x="1240" y="419">F</text><text x="1255" y="419">M</text><text x="1274" y="419">A</text><text x="1290" y="419">M</text><text x="1305" y="419">J</text><text x="1324" y="419">J</text><text x="1341" y="419">A</text><text x="1360" y="419">S</text><text x="1375" y="419">O</text><text x="1391" y="419">N</text><text x="1410" y="419">D</text><text x="1425" y="419" class="b">10</text><text x="1440" y="419">F</text>
<text x="836" y="531">F</text><text x="853" y="531">M</text><text x="869" y="531">A</text><text x="887" y="531">M</text><text x="903" y="531">J</text><text x="918" y="531">J</text><text x="938" y="531">A</text><text x="953" y="531">S</text><text x="969" y="531">O</text><text x="988" y="531">N</text><text x="1003" y="531">D</text><text x="1021" y="531" class="b">08</text><text x="1038" y="531">F</text><text x="1055" y="531">M</text><text x="1073" y="531">A</text><text x="1089" y="531">M</text><text x="1105" y="531">J</text><text x="1123" y="531">J</text><text x="1139" y="531">A</text><text x="1154" y="531">S</text><text x="1174" y="531">O</text><text x="1189" y="531">N</text><text x="1205" y="531">D</text><text x="1222" y="531" class="b">09</text><text x="1240" y="531">F</text><text x="1255" y="531">M</text><text x="1274" y="531">A</text><text x="1290" y="531">M</text><text x="1305" y="531">J</text><text x="1324" y="531">J</text><text x="1341" y="531">A</text><text x="1360" y="531">S</text><text x="1375" y="531">O</text><text x="1391" y="531">N</text><text x="1410" y="531">D</text><text x="1425" y="531" class="b">10</text><text x="1440" y="531">F</text>
</g>

<!-- annotations -->
<g stroke="#e8141c" fill="none" stroke-linecap="round" stroke-linejoin="round">
<path d="M1054 122H1562" stroke-width="3"/>
<path d="M1422 48L1486 103M1483 80L1486 103L1464 96" stroke-width="3"/>
<ellipse cx="1091" cy="163" rx="14" ry="12" stroke-width="2.5"/>
<ellipse cx="1148" cy="203" rx="15" ry="13" stroke-width="2.5"/>
<ellipse cx="1383" cy="248" rx="11" ry="12" stroke-width="2.5"/>
<ellipse cx="1440" cy="259" rx="10" ry="13" stroke-width="2.5"/>
</g>
<text class="jp" x="1505" y="117" textLength="92" lengthAdjust="spacingAndGlyphs">CMFはマイテン</text>
<text class="jp" x="1513" y="250" textLength="179" lengthAdjust="spacingAndGlyphs">一応100週線が意識されて下げ</text>
<text class="jp" x="1513" y="273" textLength="184" lengthAdjust="spacingAndGlyphs">止まった感じだけど、むしろ50</text>
<text class="jp" x="1513" y="298" textLength="166" lengthAdjust="spacingAndGlyphs">週線、200週線が意識されそ</text>
<text class="jp" x="1513" y="324" textLength="184" lengthAdjust="spacingAndGlyphs">う。一応50週線までの下振れも</text>
<text class="jp" x="1513" y="350">警戒。</text>

<rect x="800" y="543" width="711" height="2" fill="#dcdcdc"/>
<rect x="1083" y="543" width="131" height="2" fill="#ffff88"/>
</svg>
</body></html>
